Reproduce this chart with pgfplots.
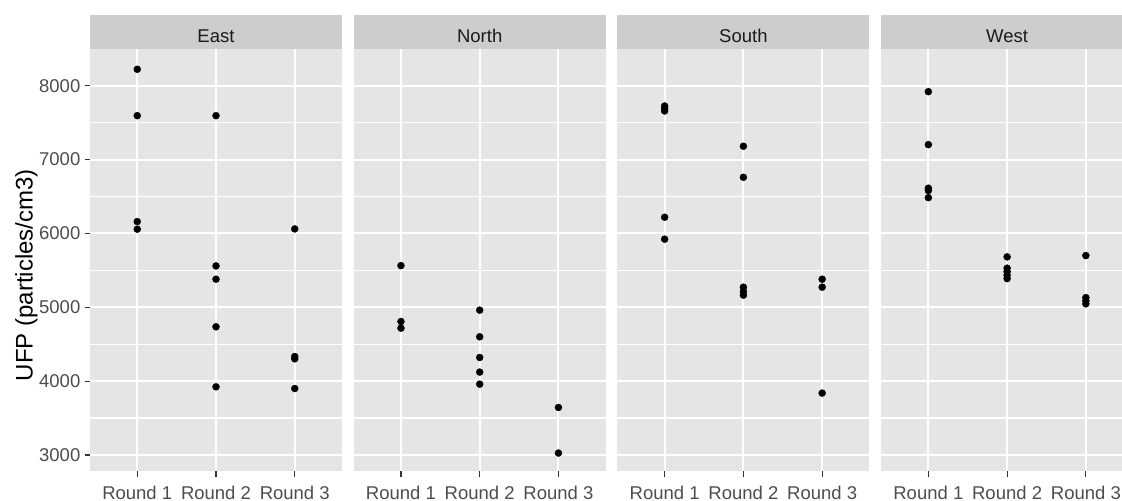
\documentclass[border=0pt]{standalone}
\usepackage{fontspec}
\setmainfont{Liberation Sans}
\usepackage{pgfplots}
\pgfplotsset{compat=1.18}
\definecolor{panelgray}{HTML}{E5E5E5}
\definecolor{stripgray}{HTML}{CDCDCD}
\definecolor{ticktext}{HTML}{4D4D4D}
\definecolor{striptext}{HTML}{1A1A1A}
\definecolor{tickcol}{HTML}{333333}
\newcommand{\tickfont}{\fontsize{18.5bp}{20bp}\selectfont}
\pgfplotsset{
  facet/.style={
    scale only axis, width=252bp, height=421.5bp,
    anchor=south west,
    xmin=0.4, xmax=3.6, ymin=2783, ymax=8490,
    xtick={1,2,3}, xticklabels={Round 1,Round 2,Round 3},
    ytick={3000,4000,5000,6000,7000,8000},
    yticklabels={3000,4000,5000,6000,7000,8000},
    minor ytick={3500,4500,5500,6500,7500},
    xmajorgrids=true, ymajorgrids=true, yminorgrids=true,
    major grid style={white, line width=2bp},
    minor grid style={white, line width=1.1bp},
    axis line style={draw=none},
    tick align=outside, tick pos=left,
    major tick length=5.5bp, minor tick length=0pt,
    every tick/.style={tickcol, line width=1.1bp},
    axis background/.style={fill=panelgray},
    clip=false,
    tick label style={font=\tickfont, text=ticktext},
    xticklabel style={anchor=base, yshift=-22.7bp},
    yticklabel style={anchor=east, inner sep=0pt, xshift=-4bp},
    /pgf/number format/assume math mode=true,
  },
  inner/.style={yticklabels={}, ytick style={draw=none}},
  dots/.style={only marks, mark=*, mark size=3.5bp, mark options={fill=black, draw=black}},
}
\newcommand{\strip}[1]{%
  \fill[stripgray] (rel axis cs:0,1) rectangle ([yshift=34bp]rel axis cs:1,1);
  \node[font=\tickfont, text=striptext, anchor=base, inner sep=0pt] at ([yshift=6.8bp]axis cs:2,8490) {#1};
}
\begin{document}
\begin{tikzpicture}
\path[use as bounding box] (0,0) rectangle (1122bp,501bp);
% East
\begin{axis}[facet, at={(90bp,30bp)}]
\addplot[dots] table {
x y
1 8222
1 7594
1 6160
1 6057
2 7594
2 5560
2 5380
2 4735
2 3923
3 6061
3 4333
3 4302
3 3900
};
\strip{East}
\end{axis}
% North
\begin{axis}[facet, inner, at={(353.7bp,30bp)}]
\addplot[dots] table {
x y
1 5564
1 4807
1 4717
2 4961
2 4600
2 4320
2 4122
2 3959
3 3643
3 3026
};
\strip{North}
\end{axis}
% South
\begin{axis}[facet, inner, at={(617.4bp,30bp)}]
\addplot[dots] table {
x y
1 7725
1 7690
1 7658
1 6219
1 5922
2 7180
2 6760
2 5272
2 5213
2 5164
3 5380
3 5272
3 3838
};
\strip{South}
\end{axis}
% West (cropped at the right edge)
\begin{axis}[facet, inner, at={(881.1bp,30bp)}, width=240.9bp, xmax=3.459]
\addplot[dots] table {
x y
1 7919
1 7202
1 6612
1 6580
1 6484
2 5682
2 5529
2 5483
2 5434
2 5388
3 5700
3 5131
3 5086
3 5046
};
\strip{West}
\end{axis}
\node[rotate=90, anchor=base, inner sep=0pt, font=\fontsize{24bp}{26bp}\selectfont] at (32.7bp,226bp) {UFP (particles/cm3)};
\end{tikzpicture}
\end{document}
